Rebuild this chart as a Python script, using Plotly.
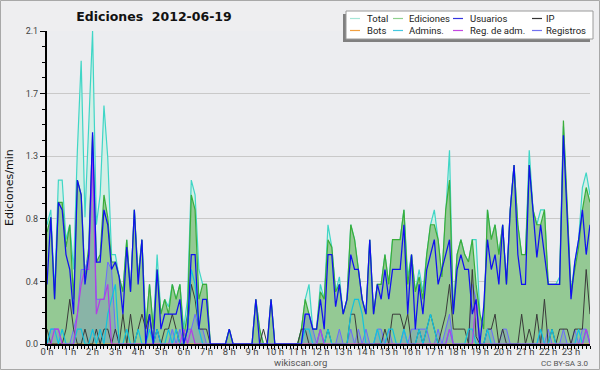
import plotly.graph_objects as go

# ---------------- data (10-minute steps, edits per minute) ----------------
hour_labels = [f"{h} h" for h in range(24)]
y_tick_values = [0, 0.42, 0.84, 1.26, 1.68, 2.1]
y_tick_labels = ["0.0", "0.4", "0.8", "1.3", "1.7", "2.1"]

total = [
    0.8, 0.9, 0.35, 1.1, 1.1, 0.7,
    0.8, 0.5, 1.3, 1.9, 0.85, 1.5,
    2.1, 0.8, 1.0, 1.6, 1.25, 0.6,
    0.6, 0.45, 0.35, 0.7, 0.35, 0.9,
    0.45, 0.7, 0.1, 0.4, 0.1, 0.6,
    0.2, 0.3, 0.25, 0.4, 0.3, 0.4,
    0.1, 0.3, 1.1, 1.0, 0.5, 0.4,
    0.4, 0, 0, 0, 0, 0,
    0.1, 0, 0, 0, 0, 0,
    0, 0.3, 0.1, 0, 0, 0.3,
    0, 0, 0, 0, 0, 0,
    0, 0.1, 0.3, 0.4, 0.1, 0.1,
    0.4, 0.3, 0.8, 0.65, 0.35, 0.45,
    0.2, 0.3, 0.8, 0.7, 0.5, 0.3,
    0.2, 0.7, 0.2, 0.4, 0.4, 0.6,
    0.4, 0.7, 0.7, 0.7, 0.9, 0.45,
    0.6, 0.35, 0.5, 0.35, 0.6, 0.8,
    0.9, 0.7, 0.45, 0.9, 1.3, 0.2,
    0.6, 0.7, 0.6, 0.55, 0.7, 0.7,
    0.2, 0.1, 0.9, 0.7, 0.8, 0.6,
    0.8, 0.4, 0.9, 1.2, 0.8, 0.6,
    0.6, 1.3, 0.9, 0.8, 0.9, 0.9,
    0.4, 0.4, 0.4, 0.45, 1.46, 0.9,
    0.35, 0.55, 0.7, 1.05, 1.15, 1.0,
]

ediciones = [
    0.75, 0.85, 0.3, 0.95, 0.95, 0.65,
    0.8, 0.3, 1.1, 1.0, 0.45, 0.65,
    1.4, 0.55, 0.6, 1.0, 0.85, 0.55,
    0.55, 0.45, 0.35, 0.7, 0.35, 0.9,
    0.45, 0.7, 0.1, 0.4, 0.1, 0.5,
    0.2, 0.3, 0.2, 0.4, 0.3, 0.4,
    0.05, 0.2, 1.0, 0.9, 0.3, 0.4,
    0.4, 0, 0, 0, 0, 0,
    0.1, 0, 0, 0, 0, 0,
    0, 0.3, 0.1, 0, 0, 0.3,
    0, 0, 0, 0, 0, 0,
    0, 0.1, 0.3, 0.2, 0.1, 0.1,
    0.35, 0.3, 0.7, 0.65, 0.35, 0.4,
    0.2, 0.3, 0.8, 0.7, 0.5, 0.3,
    0.2, 0.7, 0.2, 0.4, 0.4, 0.6,
    0.4, 0.7, 0.7, 0.7, 0.9, 0.4,
    0.6, 0.35, 0.45, 0.3, 0.6, 0.8,
    0.8, 0.7, 0.45, 0.9, 1.1, 0.2,
    0.6, 0.7, 0.6, 0.55, 0.7, 0.4,
    0.2, 0.1, 0.9, 0.7, 0.8, 0.6,
    0.8, 0.4, 0.9, 1.2, 0.8, 0.6,
    0.6, 1.2, 0.9, 0.8, 0.8, 0.9,
    0.4, 0.4, 0.4, 0.4, 1.5, 0.9,
    0.35, 0.5, 0.65, 0.9, 1.05, 0.95,
]

usuarios = [
    0.4, 0.85, 0.3, 0.95, 0.9, 0.6,
    0.5, 0.2, 1.1, 1.0, 0.4, 0.6,
    1.42, 0.55, 0.55, 0.9, 0.8, 0.5,
    0.55, 0.45, 0.2, 0.65, 0.35, 0.9,
    0.4, 0.7, 0.0, 0.2, 0.0, 0.5,
    0.1, 0.2, 0.2, 0.2, 0.2, 0.3,
    0.0, 0.1, 0.6, 0.6, 0.1, 0.3,
    0.3, 0, 0, 0, 0, 0,
    0.1, 0, 0, 0, 0, 0,
    0, 0.3, 0, 0, 0, 0.3,
    0, 0, 0, 0, 0, 0,
    0, 0, 0.2, 0.2, 0.1, 0.1,
    0.3, 0.1, 0.6, 0.6, 0.25, 0.4,
    0.2, 0.3, 0.6, 0.5, 0.5, 0.3,
    0.2, 0.7, 0.2, 0.4, 0.3, 0.5,
    0.3, 0.5, 0.5, 0.5, 0.8, 0.2,
    0.6, 0.1, 0.4, 0.2, 0.5, 0.6,
    0.7, 0.4, 0.5, 0.6, 0.7, 0.2,
    0.5, 0.6, 0.5, 0.5, 0.2, 0.3,
    0.0, 0.25, 0.7, 0.5, 0.6, 0.4,
    0.8, 0.4, 0.9, 1.2, 0.6, 0.4,
    0.4, 1.2, 0.9, 0.58, 0.8, 0.6,
    0.4, 0.4, 0.4, 0.4, 1.4, 0.85,
    0.3, 0.55, 0.7, 0.9, 0.6, 0.8,
]

ip = [
    0.1, 0, 0, 0, 0, 0.1,
    0.3, 0.1, 0, 0, 0.1, 0,
    0, 0.1, 0, 0.1, 0.1, 0,
    0.1, 0, 0.2, 0, 0.2, 0,
    0.1, 0.2, 0.1, 0.2, 0, 0.1,
    0, 0.1, 0.1, 0.2, 0.1, 0,
    0, 0.1, 0.4, 0.3, 0.1, 0.1,
    0.1, 0, 0, 0, 0, 0,
    0, 0, 0, 0, 0, 0,
    0, 0, 0, 0.1, 0, 0,
    0, 0, 0, 0, 0, 0,
    0, 0.1, 0.1, 0, 0, 0,
    0, 0, 0.1, 0, 0, 0,
    0, 0, 0.2, 0.2, 0, 0,
    0, 0, 0, 0, 0, 0.1,
    0, 0.2, 0.2, 0.2, 0.1, 0.2,
    0, 0, 0.1, 0, 0.1, 0.2,
    0.1, 0, 0.1, 0.2, 0.4, 0.1,
    0.1, 0.1, 0.1, 0, 0.5, 0.05,
    0, 0, 0.1, 0.1, 0.2, 0,
    0.1, 0, 0, 0, 0, 0.2,
    0, 0.1, 0, 0.2, 0, 0.3,
    0, 0.1, 0, 0.1, 0.1, 0.1,
    0, 0.1, 0.1, 0.1, 0.5, 0.2,
]

bots = [0] * 144

admins = [
    0, 0.1, 0.1, 0, 0.1, 0,
    0, 0, 0.1, 0.1, 0, 0,
    0.1, 0, 0.1, 0, 0.2, 0.3,
    0.4, 0, 0, 0.1, 0, 0,
    0.1, 0, 0, 0.1, 0, 0.1,
    0, 0, 0.1, 0, 0.1, 0,
    0, 0.1, 0.5, 0.4, 0.1, 0,
    0, 0, 0, 0, 0, 0,
    0, 0, 0, 0, 0, 0,
    0, 0, 0, 0, 0, 0,
    0, 0, 0, 0, 0, 0,
    0, 0, 0.1, 0.1, 0, 0,
    0.1, 0, 0.1, 0, 0, 0,
    0, 0, 0.2, 0.3, 0.3, 0.2,
    0, 0, 0, 0.1, 0, 0,
    0.1, 0.1, 0, 0, 0.1, 0,
    0, 0, 0.1, 0, 0.1, 0.2,
    0.1, 0, 0, 0, 0.1, 0,
    0, 0, 0, 0.1, 0.1, 0,
    0, 0, 0.1, 0, 0, 0,
    0, 0, 0, 0, 0, 0,
    0, 0, 0, 0, 0.1, 0,
    0, 0.1, 0, 0, 0, 0,
    0, 0, 0.1, 0, 0.1, 0,
]

reg_adm = [
    0, 0, 0.1, 0.1, 0, 0,
    0, 0, 0.2, 0.4, 0.5, 0.5,
    1.25, 0.2, 0.3, 0.3, 0.4, 0,
    0, 0, 0, 0, 0, 0,
    0, 0, 0, 0, 0, 0,
    0, 0, 0, 0, 0, 0,
    0.1, 0, 0.1, 0, 0, 0,
    0, 0, 0, 0, 0, 0,
    0, 0, 0, 0, 0, 0,
    0, 0, 0, 0, 0, 0,
    0, 0, 0, 0, 0, 0,
    0, 0, 0, 0, 0, 0,
    0.1, 0, 0, 0, 0, 0,
    0, 0, 0, 0, 0, 0,
    0, 0, 0, 0, 0, 0,
    0, 0, 0, 0, 0, 0,
    0, 0, 0, 0, 0, 0,
    0, 0, 0, 0, 0.1, 0,
    0, 0, 0, 0, 0, 0.3,
    0, 0, 0, 0, 0, 0,
    0, 0, 0, 0, 0, 0,
    0, 0, 0, 0, 0, 0,
    0, 0, 0, 0, 0, 0,
    0, 0, 0, 0, 0.1, 0,
]

registros = [
    0, 0.1, 0.1, 0.1, 0, 0,
    0, 0.1, 0.2, 0.5, 0.5, 0.6,
    1.3, 0.3, 0.3, 0.3, 0.55, 0.5,
    0.1, 0, 0, 0, 0, 0,
    0, 0, 0, 0, 0, 0.1,
    0, 0, 0, 0.1, 0, 0.1,
    0, 0.1, 0.1, 0.2, 0.1, 0.1,
    0, 0, 0, 0, 0, 0,
    0, 0, 0, 0, 0, 0,
    0, 0, 0, 0, 0, 0,
    0, 0, 0, 0, 0, 0,
    0, 0, 0.2, 0.2, 0.1, 0,
    0.1, 0, 0, 0, 0, 0.1,
    0, 0, 0.1, 0, 0.1, 0,
    0.1, 0, 0, 0.1, 0.1, 0,
    0.1, 0, 0, 0, 0.1, 0,
    0.1, 0.1, 0.1, 0.1, 0.1, 0,
    0, 0.1, 0, 0.1, 0.2, 0,
    0, 0, 0, 0, 0.4, 0.3,
    0, 0, 0.1, 0.1, 0, 0,
    0.1, 0.1, 0, 0, 0, 0,
    0, 0, 0, 0, 0.1, 0,
    0.1, 0, 0, 0, 0.1, 0,
    0, 0.1, 0, 0.1, 0.1, 0,
]

hours = [i / 6 for i in range(len(total))]

# ---------------- geometry helpers ----------------
W, H = 600, 370
ML, MR, MT, MB = 47, 10, 31, 26
PW, PH = W - ML - MR, H - MT - MB


def px(x):
    return (x - ML) / PW


def py(y):
    return (H - MB - y) / PH


FONT = "DejaVu Sans, sans-serif"
NARROW = "Roboto, DejaVu Sans, sans-serif"

fig = go.Figure()

series = [
    ("Total", total, "#3fd6c6", 1.2, "tozeroy", "#d4efe6"),
    ("Ediciones", ediciones, "#3aad3a", 1.2, "tozeroy", "#94c994"),
    ("Registros", registros, "#6b6bff", 1.0, "tozeroy", "rgba(90,90,255,0.18)"),
    ("Bots", bots, "#f29a2e", 1.0, None, None),
    ("IP", ip, "#3a3a3a", 1.0, None, None),
    ("Admins.", admins, "#12c2de", 1.2, None, None),
    ("Reg. de adm.", reg_adm, "#b23ee6", 1.2, None, None),
    ("Usuarios", usuarios, "#1010f0", 1.25, None, None),
]
for name, vals, color, width, fill, fillcolor in series:
    kw = dict(fill=fill, fillcolor=fillcolor) if fill else {}
    fig.add_trace(go.Scatter(x=hours, y=vals, name=name, mode="lines",
                             line=dict(color=color, width=width),
                             showlegend=False, hoverinfo="skip", **kw))

# ---------------- manual legend ----------------
shapes = []
annotations = []
shapes.append(dict(type="rect", xref="paper", yref="paper",
                   x0=px(343), x1=px(590), y0=py(14), y1=py(42),
                   fillcolor="#808080", line=dict(width=0), layer="above"))
shapes.append(dict(type="rect", xref="paper", yref="paper",
                   x0=px(346), x1=px(593), y0=py(11), y1=py(39),
                   fillcolor="#ffffff", line=dict(color="#9a9a9a", width=1), layer="above"))

legend_items = [
    ("Total", "#a6e6d8", 350, 366, 18.5),
    ("Ediciones", "#8ed08e", 393, 408, 18.5),
    ("Usuarios", "#3434e0", 453, 469, 18.5),
    ("IP", "#333333", 532, 545, 18.5),
    ("Bots", "#f2a040", 350, 366, 30.5),
    ("Admins.", "#44c8e0", 393, 408, 30.5),
    ("Reg. de adm.", "#c448e2", 453, 469, 30.5),
    ("Registros", "#7272f0", 532, 545, 30.5),
]
for label, color, lx, tx, ly in legend_items:
    shapes.append(dict(type="line", xref="paper", yref="paper",
                       x0=px(lx), x1=px(lx + 10), y0=py(ly), y1=py(ly),
                       line=dict(color=color, width=1.2), layer="above"))
    annotations.append(dict(text=label, xref="paper", yref="paper",
                            x=px(tx), y=py(ly), xanchor="left", yanchor="middle",
                            showarrow=False, borderpad=0,
                            font=dict(family=NARROW, size=9.5, color="#222")))

# outer border
shapes.append(dict(type="rect", xref="paper", yref="paper",
                   x0=px(0.5), x1=px(599.5), y0=py(0.5), y1=py(369.5),
                   line=dict(color="#a8a8a8", width=1), layer="above"))

annotations.append(dict(text="Ediciones/min", xref="paper", yref="paper",
                        x=px(9), y=py(188), textangle=-90, showarrow=False,
                        xanchor="center", yanchor="middle",
                        font=dict(family=FONT, size=11, color="#111")))
annotations.append(dict(text="wikiscan.org", xref="paper", yref="paper",
                        x=px(300), y=py(362), showarrow=False,
                        xanchor="center", yanchor="middle",
                        font=dict(family=NARROW, size=9.5, color="#555")))
annotations.append(dict(text="CC BY-SA 3.0", xref="paper", yref="paper",
                        x=px(591), y=py(363), showarrow=False,
                        xanchor="right", yanchor="middle",
                        font=dict(family=NARROW, size=8, color="#555")))

fig.update_layout(
    width=W, height=H, autosize=False,
    margin=dict(l=ML, r=MR, t=MT, b=MB, pad=0),
    paper_bgcolor="#eeeef0", plot_bgcolor="#ecedf0",
    title=dict(text="Ediciones  2012-06-19", x=154 / W, y=1 - 16.5 / H,
               xanchor="center", yanchor="middle", xref="container", yref="container",
               font=dict(family=FONT, size=12.5, color="#111", weight="bold")),
    shapes=shapes, annotations=annotations,
    xaxis=dict(range=[0, hours[-1]], tickmode="array",
               tickvals=list(range(24)), ticktext=hour_labels,
               ticks="outside", ticklen=4, tickcolor="#000", tickwidth=1,
               showline=True, linecolor="#000", linewidth=2,
               showgrid=False, zeroline=False, ticklabelstandoff=-6,
               tickfont=dict(family=NARROW, size=9.5, color="#444"),
               minor=dict(ticks="outside", ticklen=3, tickcolor="#000", tickwidth=1,
                          dtick=1 / 6, tick0=0, showgrid=False)),
    yaxis=dict(range=[0, 2.1], tickmode="array",
               tickvals=y_tick_values, ticktext=y_tick_labels,
               ticks="outside", ticklen=5, tickcolor="#000", tickwidth=1,
               showline=True, linecolor="#000", linewidth=2,
               showgrid=True, gridcolor="#c9c9c9", gridwidth=1, zeroline=False,
               tickfont=dict(family=NARROW, size=9, color="#444"),
               minor=dict(ticks="outside", ticklen=3, tickcolor="#000", tickwidth=1,
                          dtick=0.105, tick0=0, showgrid=False)),
)

fig.write_html("out.html", config={"displayModeBar": False},
               post_script="document.body.style.margin='0px';document.body.style.padding='0px';")
